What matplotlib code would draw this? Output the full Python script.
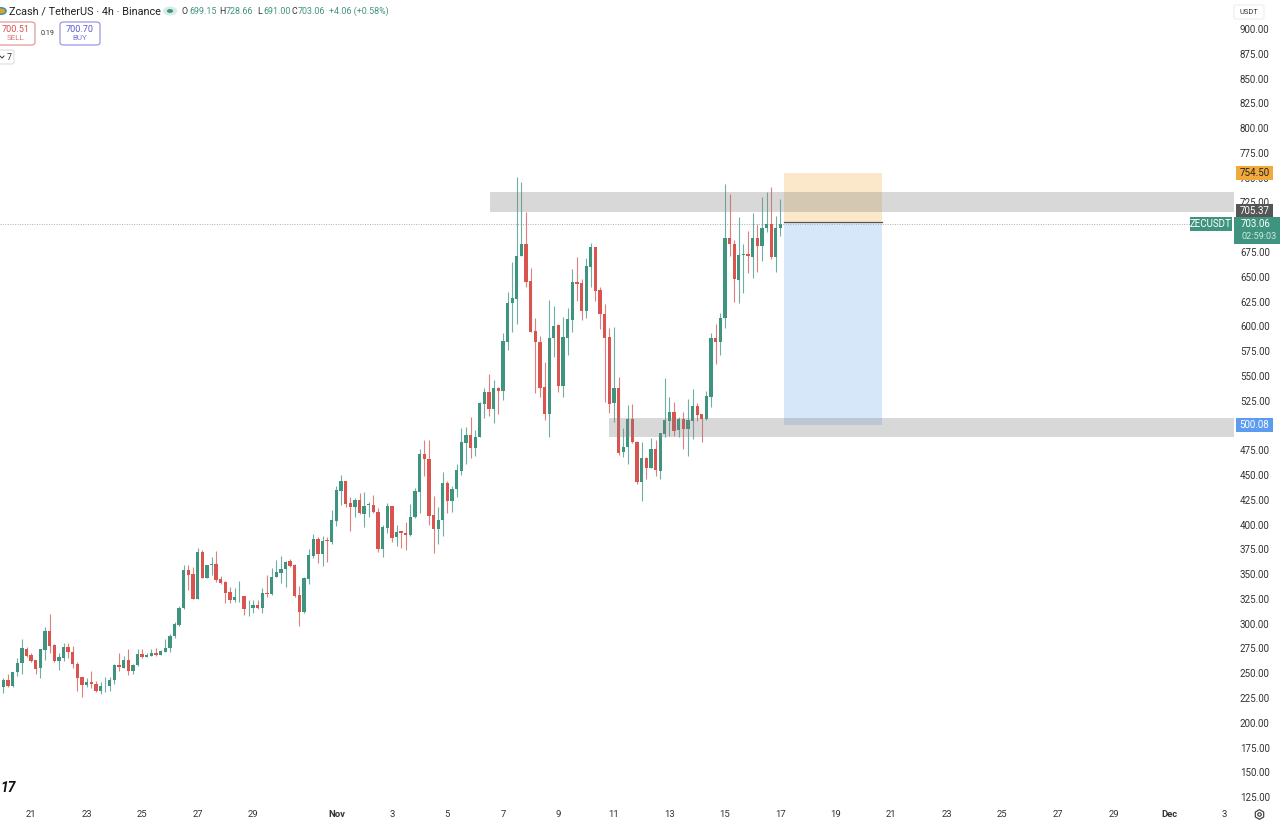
"""Zcash / TetherUS 4h candles with two grey zones and a short position box."""
import matplotlib
matplotlib.use("Agg")
import matplotlib.pyplot as plt
from matplotlib.patches import FancyBboxPatch, Rectangle
from matplotlib.transforms import blended_transform_factory

# 4h candles, first one is cut by the left edge
opens = [231.5, 235.8, 243.0, 237.2, 251.3, 260.0, 274.8, 268.8, 263.7, 255.0,
         273.8, 292.7, 278.2, 262.4, 265.8, 276.9, 271.5, 259.7, 245.9, 238.2,
         241.5, 239.5, 232.1, 236.8, 237.2, 243.2, 258.4, 255.7, 263.4, 252.3,
         258.0, 269.8, 266.4, 267.8, 270.8, 268.8, 271.8, 275.9, 287.6, 298.7,
         315.5, 353.9, 349.8, 325.0, 372.0, 346.2, 359.0, 359.9, 344.8, 342.1,
         332.0, 323.6, 326.6, 327.6, 315.5, 315.5, 318.9, 315.9, 331.4, 329.7,
         346.8, 351.2, 355.2, 363.3, 359.3, 329.0, 311.5, 344.8, 368.3, 385.5,
         370.4, 384.5, 382.5, 403.7, 433.6, 444.0, 422.2, 418.1, 424.8, 410.7,
         419.5, 420.1, 412.7, 375.4, 396.3, 418.8, 387.2, 393.2, 391.9, 389.5,
         407.7, 433.2, 471.3, 466.2, 409.4, 395.6, 404.7, 442.0, 423.8, 435.6,
         454.4, 482.4, 490.1, 477.7, 488.1, 521.7, 533.5, 516.3, 537.5, 535.2,
         584.6, 624.0, 627.7, 671.0, 683.5, 645.8, 595.0, 584.6, 538.5, 511.3,
         588.0, 601.1, 540.2, 588.6, 606.5, 645.1, 643.5, 615.5, 660.3, 680.5,
         636.7, 612.5, 589.0, 522.4, 538.2, 473.0, 478.7, 506.6, 483.7, 443.0,
         467.6, 457.5, 476.0, 454.4, 491.8, 504.6, 513.3, 495.5, 506.9, 496.5,
         504.9, 519.7, 511.3, 506.6, 529.1, 588.0, 584.6, 608.8, 689.5, 683.1,
         646.8, 671.7, 672.7, 670.4, 689.5, 681.1, 699.0, 703.0, 670.4, 699.15]
highs = [238.0, 245.0, 249.0, 251.6, 265.8, 285.0, 276.2, 270.1, 263.7, 274.2,
         296.7, 309.5, 279.2, 270.1, 280.9, 280.9, 277.5, 261.7, 245.9, 244.9,
         252.6, 242.2, 241.5, 245.9, 245.9, 259.0, 270.1, 267.4, 274.2, 259.4,
         274.2, 274.5, 270.8, 274.2, 275.2, 273.5, 285.0, 289.6, 301.4, 317.9,
         359.3, 359.3, 357.6, 376.0, 374.4, 359.3, 367.7, 373.7, 348.2, 343.5,
         337.4, 335.7, 343.5, 328.0, 324.0, 324.0, 324.0, 335.7, 349.2, 355.9,
         364.3, 368.3, 363.3, 365.0, 360.3, 338.1, 347.5, 375.0, 390.5, 387.9,
         388.5, 387.2, 414.8, 439.0, 450.0, 444.0, 427.5, 426.5, 431.6, 432.6,
         423.2, 429.9, 416.4, 399.6, 422.2, 418.8, 399.6, 393.9, 403.0, 420.8,
         436.6, 476.0, 485.4, 485.4, 428.9, 418.1, 452.8, 444.4, 439.0, 461.2,
         497.2, 498.8, 508.3, 495.5, 524.1, 537.5, 552.0, 545.9, 538.5, 593.0,
         634.4, 665.3, 750.4, 746.0, 715.8, 659.3, 608.1, 590.3, 564.4, 626.6,
         620.6, 602.4, 609.8, 618.9, 657.6, 669.7, 647.5, 668.7, 684.5, 680.5,
         640.1, 622.3, 598.0, 599.7, 548.6, 497.2, 520.7, 521.7, 484.4, 483.0,
         467.9, 487.7, 485.4, 492.8, 547.6, 529.1, 523.4, 508.3, 514.0, 526.4,
         536.8, 522.4, 511.6, 535.2, 593.7, 602.1, 613.9, 743.7, 733.6, 687.2,
         710.7, 682.8, 696.3, 714.8, 703.3, 730.9, 735.3, 740.3, 711.4, 728.66]
lows = [230.0, 230.4, 236.5, 236.5, 247.3, 249.0, 266.8, 261.7, 249.0, 245.6,
        263.4, 270.8, 261.7, 253.3, 262.4, 265.1, 255.7, 232.5, 226.4, 235.8,
        234.8, 231.1, 228.8, 231.5, 232.5, 239.2, 252.6, 255.0, 248.3, 249.0,
        257.4, 265.8, 266.1, 267.4, 267.8, 268.5, 271.5, 271.8, 285.9, 298.0,
        314.5, 334.0, 324.6, 324.6, 345.8, 345.8, 349.2, 342.4, 340.1, 320.6,
        320.6, 322.3, 322.3, 308.8, 307.8, 310.5, 315.2, 311.2, 327.3, 329.0,
        346.8, 341.4, 337.4, 357.6, 327.3, 298.1, 311.2, 340.1, 366.0, 361.0,
        358.3, 362.6, 380.5, 398.6, 419.8, 417.4, 393.9, 408.0, 410.7, 397.9,
        408.0, 412.1, 372.7, 367.0, 391.9, 382.1, 378.4, 376.8, 374.4, 388.9,
        407.0, 411.4, 449.0, 399.6, 371.0, 380.5, 388.5, 411.4, 412.8, 427.5,
        450.1, 461.2, 467.6, 469.2, 488.1, 507.2, 509.9, 502.2, 511.3, 525.8,
        576.2, 594.7, 602.4, 671.0, 639.4, 594.7, 532.5, 528.4, 505.6, 488.1,
        568.8, 534.2, 529.1, 571.2, 594.7, 626.0, 606.5, 608.1, 639.4, 626.0,
        597.0, 524.1, 513.0, 503.9, 470.3, 467.9, 461.2, 482.7, 441.0, 424.2,
        446.0, 456.8, 449.0, 445.7, 488.8, 489.4, 489.4, 488.8, 476.0, 469.6,
        486.4, 504.9, 483.7, 505.6, 518.3, 562.1, 571.2, 598.7, 671.0, 625.0,
        624.0, 633.4, 654.2, 649.2, 655.2, 666.3, 695.6, 667.7, 655.2, 691.0]
closes = [236.5, 243.2, 237.5, 251.6, 260.7, 275.2, 267.8, 262.7, 254.7, 274.2,
          292.7, 277.5, 262.4, 266.1, 276.9, 271.5, 259.4, 245.6, 238.2, 241.5,
          239.2, 232.1, 237.2, 237.2, 243.2, 258.4, 256.7, 263.4, 252.3, 258.0,
          269.8, 266.4, 268.5, 270.8, 268.5, 272.2, 275.9, 288.0, 299.4, 316.2,
          353.9, 349.5, 325.0, 372.7, 346.2, 359.3, 359.9, 344.1, 341.1, 331.0,
          323.6, 327.0, 327.3, 314.9, 315.9, 318.9, 315.9, 331.0, 330.0, 347.5,
          351.9, 355.6, 362.6, 357.9, 328.3, 311.5, 346.2, 369.4, 385.5, 370.4,
          383.8, 383.5, 404.7, 434.6, 444.0, 420.8, 418.1, 424.8, 411.4, 418.8,
          420.5, 412.4, 375.4, 397.6, 418.8, 386.8, 392.9, 391.2, 389.5, 408.0,
          433.9, 471.3, 465.9, 409.0, 395.9, 404.7, 441.7, 423.8, 435.6, 455.1,
          483.0, 490.1, 477.7, 488.4, 522.4, 533.8, 516.3, 537.5, 535.2, 585.3,
          624.0, 628.3, 671.4, 683.5, 645.1, 594.7, 584.3, 538.2, 511.3, 588.0,
          600.7, 539.9, 589.0, 607.1, 645.1, 642.8, 615.5, 661.0, 680.1, 636.0,
          612.2, 588.6, 521.7, 538.2, 472.6, 478.7, 506.6, 483.4, 442.7, 467.6,
          457.5, 476.0, 454.8, 492.5, 505.2, 513.6, 494.8, 506.9, 496.8, 505.2,
          519.4, 511.0, 506.6, 529.4, 588.0, 584.6, 608.8, 688.9, 683.1, 647.5,
          672.0, 672.7, 670.7, 689.5, 681.5, 699.6, 703.0, 669.7, 699.0, 703.06]

price_ticks = [125 + 25 * i for i in range(32)]
# covered by the price tags in the original
hidden_ticks = {500, 700}
# days counted from Oct 21
date_days = [0, 2, 4, 6, 8, 11, 13, 15, 17, 19, 21, 23, 25, 27, 29, 31, 33, 35, 37, 39, 41, 43]
date_labels = ["21", "23", "25", "27", "29", "Nov", "3", "5", "7", "9", "11", "13",
               "15", "17", "19", "21", "23", "25", "27", "29", "Dec", "3"]

upper_zone = (735.6, 715.4)
lower_zone = (507.5, 488.4)
stop_price = 754.50
entry_price = 705.37
target_price = 500.08
last_price = 703.06

GREEN = "#3f9480"
RED = "#d9534f"
FONT = "Roboto"
W, H = 1280, 823
AX_RIGHT, AX_BOTTOM = 1233, 803


def fx(px):
    return px / W


def fy(px):
    return 1 - px / H


def label(fig, px, py, text, size=7, color="#333333", ha="left", **kw):
    fig.text(fx(px), fy(py), text, fontsize=size, color=color, ha=ha, va="center",
             family=FONT, **kw)


def price_tag(ax, trans, price, text, color, x0, x1, tall=14, txt="white"):
    ax.add_patch(Rectangle((x0 / W, price - tall / 2), (x1 - x0) / W, tall, transform=trans,
                           facecolor=color, edgecolor="none", clip_on=False, zorder=10))
    ax.text((x0 + x1) / 2 / W, price, text, transform=trans, ha="center", va="center",
            color=txt, fontsize=7, family=FONT, clip_on=False, zorder=11)


def header(fig):
    fig.patches.append(plt.Circle((fx(1), fy(11)), 0.004, transform=fig.transFigure,
                                  facecolor="#e0a030", edgecolor="#2a8fb0", lw=1))
    label(fig, 9, 11.5, "Zcash / TetherUS · 4h · Binance", size=7.8, color="#222222")
    fig.patches.append(plt.Circle((fx(170), fy(11)), 0.0055, transform=fig.transFigure,
                                  facecolor="#d6ece6", edgecolor="none"))
    fig.patches.append(plt.Circle((fx(170), fy(11)), 0.0024, transform=fig.transFigure,
                                  facecolor=GREEN, edgecolor="none"))
    ohlc = [(182, "O", 189, "699.15"), (219, "H", 226, "728.66"),
            (257, "L", 263, "691.00"), (292, "C", 298, "703.06")]
    for x0, key, x1, val in ohlc:
        label(fig, x0, 11.5, key, size=6.4, color="#333333")
        label(fig, x1, 11.5, val, size=6.4, color=GREEN)
    label(fig, 329, 11.5, "+4.06 (+0.58%)", size=6.4, color=GREEN)

    for x0, x1, edge, col, price, side in [(-3, 35, "#e39a9a", "#d9534f", "700.51", "SELL"),
                                           (60, 100, "#9a9ae6", "#5a5ad0", "700.70", "BUY")]:
        fig.patches.append(FancyBboxPatch((fx(x0), fy(45)), (x1 - x0) / W, 23 / H,
                                          boxstyle="round,pad=0,rounding_size=0.003",
                                          transform=fig.transFigure, facecolor="white",
                                          edgecolor=edge, lw=0.9))
        label(fig, (x0 + x1) / 2, 29, price, size=6.6, color=col, ha="center")
        label(fig, (x0 + x1) / 2, 38, side, size=5.8, color=col, ha="center", alpha=0.8)
    label(fig, 47.5, 33.5, "0.19", size=5.2, color="#333333", ha="center")
    fig.patches.append(FancyBboxPatch((fx(-3), fy(64)), 17 / W, 14 / H,
                                      boxstyle="round,pad=0,rounding_size=0.002",
                                      transform=fig.transFigure, facecolor="white",
                                      edgecolor="#dddddd", lw=0.8))
    fig.add_artist(plt.Line2D([fx(0), fx(2), fx(4)], [fy(56), fy(58), fy(56)], color="#333333", lw=0.7))
    label(fig, 9, 57, "7", size=6.4, color="#333333", ha="center")

    label(fig, 1249, 12, "USDT", size=5.4, color="#333333", ha="center")
    fig.patches.append(FancyBboxPatch((fx(1234), fy(19)), 30 / W, 14 / H,
                                      boxstyle="round,pad=0,rounding_size=0.002",
                                      transform=fig.transFigure, facecolor="none",
                                      edgecolor="#eeeeee", lw=0.8))
    label(fig, 0, 788, "17", size=10, color="#111111", weight="bold", style="italic")


def main():
    fig = plt.figure(figsize=(W / 100, H / 100), dpi=100)
    ax = fig.add_axes([0, 1 - AX_BOTTOM / H, AX_RIGHT / W, AX_BOTTOM / H])

    xs = list(range(-1, len(opens) - 1))
    colors = [GREEN if c >= o else RED for o, c in zip(opens, closes)]
    ax.vlines(xs, lows, highs, colors=colors, linewidth=0.8, alpha=0.75, zorder=2)
    ax.bar(xs, [abs(c - o) for o, c in zip(opens, closes)], width=0.72,
           bottom=[min(o, c) for o, c in zip(opens, closes)], color=colors, linewidth=0, zorder=3)

    # position box
    x_start, x_end = 168.8, 190
    ax.fill_between([x_start, x_end], entry_price, stop_price, color="#fbe8ca", linewidth=0, zorder=1)
    ax.fill_between([x_start, x_end], target_price, entry_price, color="#d7e7fa", linewidth=0, zorder=1)
    ax.plot([x_start, x_end], [entry_price, entry_price], color="#555555", lw=0.9, zorder=4)

    # zones sit over the candles
    ax.fill_between([105.2, 266], upper_zone[1], upper_zone[0], color="#808080", alpha=0.3, linewidth=0, zorder=5)
    ax.fill_between([131.0, 266], lower_zone[1], lower_zone[0], color="#808080", alpha=0.3, linewidth=0, zorder=5)

    ax.axhline(last_price, color="#a3b5b0", lw=0.7, ls=(0, (1, 1.5)), zorder=1)

    ax.set_xlim(-0.735, 265.85)
    ax.set_ylim(929.3 - 1.009 * AX_BOTTOM, 929.3)
    for s in ax.spines.values():
        s.set_visible(False)
    ax.yaxis.tick_right()
    ax.set_yticks(price_ticks)
    ax.set_yticklabels(["" if p in hidden_ticks else f"{p:.2f}" for p in price_ticks],
                       fontsize=7, color="#333333", family=FONT)
    ax.set_xticks([6 + 6 * d for d in date_days])
    ax.set_xticklabels(date_labels, fontsize=6.8, color="#333333", family=FONT)
    for t, name in zip(ax.get_xticklabels(), date_labels):
        if name in ("Nov", "Dec"):
            t.set_fontweight("bold")
    ax.tick_params(axis="y", length=0, pad=5)
    ax.tick_params(axis="x", length=0, pad=5)

    trans = blended_transform_factory(fig.transFigure, ax.transData)
    price_tag(ax, trans, stop_price, "754.50", "#f2a93b", 1236, 1273, txt="#222222")
    price_tag(ax, trans, entry_price + 11, "705.37", "#555555", 1236, 1273)
    price_tag(ax, trans, target_price, "500.08", "#5b9cf0", 1236, 1273)
    price_tag(ax, trans, last_price, "ZECUSDT", GREEN, 1190, 1232)
    ax.add_patch(Rectangle((1234 / W, last_price - 19.5), 46 / W, 26.5, transform=trans,
                           facecolor=GREEN, edgecolor="none", clip_on=False, zorder=10))
    ax.text(1241 / W, last_price, "703.06", transform=trans, va="center", color="white",
            fontsize=7, family=FONT, clip_on=False, zorder=11)
    ax.text(1241 / W, last_price - 12.5, "02:59:03", transform=trans, va="center", color="#cfe6e0",
            fontsize=6.6, family=FONT, clip_on=False, zorder=11)

    header(fig)

    # settings cog
    fig.add_artist(plt.Line2D([fx(1259)], [fy(813.5)], marker="h", ms=7, mfc="none", mec="#333333", mew=0.8))
    fig.add_artist(plt.Line2D([fx(1259)], [fy(813.5)], marker="o", ms=2.5, mfc="none", mec="#333333", mew=0.8))

    fig.savefig("out.png", dpi=100, facecolor="white")
    plt.close(fig)


if __name__ == "__main__":
    main()
